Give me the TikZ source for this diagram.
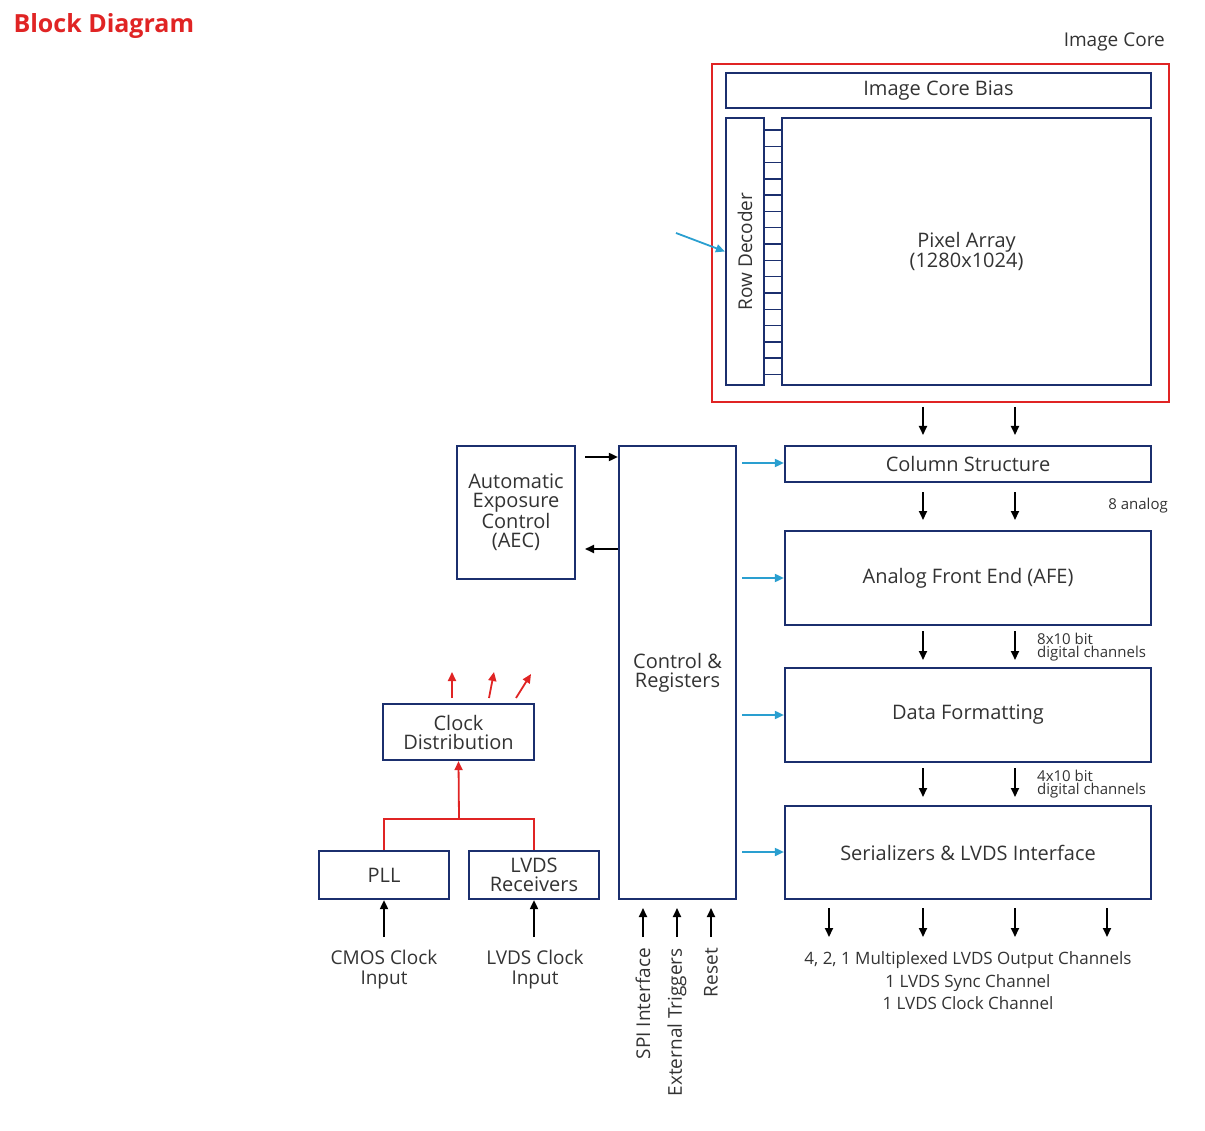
\documentclass[tikz,border=0pt]{standalone}
\usepackage{fontspec}
\setmainfont{Open Sans}
\usetikzlibrary{arrows.meta}
\definecolor{navy}{HTML}{1B2F6E}
\definecolor{sky}{HTML}{2A9FD0}
\definecolor{hot}{HTML}{E02424}
\begin{document}
\begin{tikzpicture}[x=1pt,y=-1pt,
  box/.style={draw=navy,line width=2.2pt,inner sep=0pt,align=center,font=\fontsize{20}{19}\selectfont,text=black!80},
  arr/.style={-{Triangle[length=9pt,width=8pt]},line width=1.8pt},
  bar/.style={arr,sky},
  red/.style={arr,hot},
  lab/.style={font=\fontsize{19}{20}\selectfont,text=black!80,align=center,inner sep=0pt},
  small/.style={font=\fontsize{15}{13}\selectfont,text=black!80,align=left,inner sep=0pt}]
\useasboundingbox (0,0) rectangle (1205,1131);
\node[anchor=west,font=\bfseries\fontsize{25}{25}\selectfont,text=hot] (title) at (10,26) {Block Diagram};
\node[lab,anchor=east] (ic) at (1165,42) {Image Core};
\draw[hot,line width=1.2pt] (712,64) rectangle (1169,402);
\node[box,minimum width=425pt,minimum height=35pt] (bias) at (938.5,90.5) {Image Core Bias};
\node[box,minimum width=38pt,minimum height=267pt] (rowdec) at (745,251.5) {};
\node[lab,rotate=90] at (rowdec) {Row Decoder};
\node[box,minimum width=369pt,minimum height=267pt] (pix) at (966.5,251.5) {Pixel Array\\(1280x1024)};
\foreach \i in {0,...,15} \draw[navy,line width=1.4pt] (764,130+16.3*\i) -- (782,130+16.3*\i);
\coordinate (rdin) at (676,233);
\draw[bar] (rdin) -- (rowdec.west);
% right column
\node[box,minimum width=366pt,minimum height=36pt] (col) at (968,464) {Column Structure};
\node[box,minimum width=366pt,minimum height=94pt] (afe) at (968,578) {Analog Front End (AFE)};
\node[box,minimum width=366pt,minimum height=94pt] (fmt) at (968,715) {Data Formatting};
\node[box,minimum width=366pt,minimum height=93pt] (ser) at (968,852.5) {Serializers \& LVDS Interface};
\foreach \x in {923,1015}{
  \draw[arr] (\x,407) -- (\x,435);
  \draw[arr] (\x,492) -- (\x,520);
  \draw[arr] (\x,631) -- (\x,660);
  \draw[arr] (\x,768) -- (\x,797);}
\node[small,anchor=east] (an) at (1168,506) {8 analog};
\node[small,anchor=west] (d8) at (1037,647) {8x10 bit\\digital channels};
\node[small,anchor=west] (d4) at (1037,784) {4x10 bit\\digital channels};
\foreach \x in {829,923,1015,1107} \draw[arr] (\x,908) -- (\x,937);
\node[lab,font=\fontsize{17}{22.5}\selectfont] (out) at (968,981) {4, 2, 1 Multiplexed LVDS Output Channels\\1 LVDS Sync Channel\\1 LVDS Clock Channel};
% control
\node[box,minimum width=117pt,minimum height=453pt] (ctl) at (677.5,672.5) {Control \&\\Registers};
\foreach \y/\t in {463/col,578/afe,715/fmt,852/ser} \draw[bar] (742,\y) -- (\t.west|-0,\y);
\node[box,minimum width=118pt,minimum height=133pt] (aec) at (516,512.5) {Automatic\\Exposure\\Control\\(AEC)};
\draw[arr] (585,457) -- (ctl.west|-0,457);
\draw[arr] (ctl.west|-0,549) -- (585,549);
\foreach \x/\t in {643/SPI Interface,677/External Triggers,711/Reset}{
  \draw[arr] (\x,937) -- (\x,908);
  \node[lab,rotate=90,anchor=east] at (\x,948) {\t};}
% clocks
\node[box,minimum width=151pt,minimum height=56pt] (cd) at (458.5,732) {Clock\\Distribution};
\draw[red] (452,698) -- (452,672);
\draw[red] (489,698) -- (494,672);
\draw[red] (516,698) -- (531,674);
\node[box,minimum width=130pt,minimum height=48pt] (pll) at (384,875) {PLL};
\node[box,minimum width=130pt,minimum height=48pt] (lvds) at (534,875) {LVDS\\Receivers};
\draw[hot,line width=1.8pt] (pll.north) -- (384,819) -- (534,819) -- (lvds.north);
\draw[red] (459,819) -- (cd.south);
\draw[arr] (384,937) -- (pll.south);
\draw[arr] (534,937) -- (lvds.south);
\node[lab] (cmos) at (384,970) {CMOS Clock\\Input};
\node[lab] (lin) at (535,970) {LVDS Clock\\Input};
\end{tikzpicture}
\end{document}
